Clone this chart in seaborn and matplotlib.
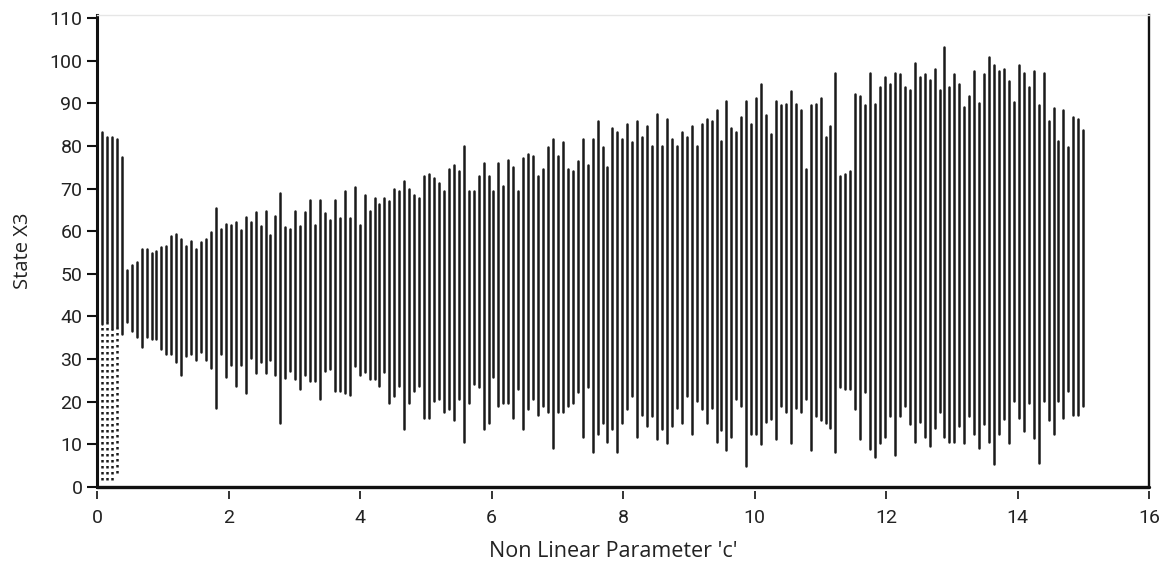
import numpy as np
import pandas as pd
import matplotlib
matplotlib.use("Agg")
import matplotlib.pyplot as plt
import seaborn as sns

# ---- data ----
c_values = np.linspace(0, 15, 200)   # parameter grid (200 samples of c)

x3_max = [
    84.7, 83.2, 82.0, 82.0, 81.6, 77.3, 50.9, 52.1, 52.7, 55.9, 55.9, 54.8, 55.4, 56.4, 56.6, 58.8, 59.3, 58.2, 56.6, 57.7,
    55.9, 57.4, 58.2, 59.8, 65.5, 60.6, 61.7, 61.5, 62.2, 60.3, 63.3, 62.2, 64.5, 61.1, 64.7, 59.0, 63.5, 69.0, 60.9, 60.6,
    64.7, 61.1, 64.5, 67.3, 61.5, 67.3, 64.2, 62.7, 67.3, 63.1, 69.4, 63.1, 70.3, 61.5, 68.4, 64.7, 67.8, 66.4, 67.8, 67.0,
    69.8, 69.4, 71.8, 69.8, 68.4, 67.8, 72.9, 73.5, 72.4, 71.4, 69.4, 74.5, 75.5, 74.0, 80.0, 69.4, 69.4, 72.9, 76.1, 72.9,
    69.4, 76.1, 70.6, 76.6, 75.1, 69.4, 77.1, 78.2, 77.7, 72.9, 74.5, 79.8, 81.6, 77.7, 80.8, 74.5, 74.0, 76.5, 81.6, 75.5,
    81.6, 85.9, 79.8, 75.1, 84.2, 83.2, 81.6, 85.1, 80.8, 85.9, 82.0, 84.7, 80.0, 87.5, 80.0, 86.3, 81.6, 80.0, 83.2, 82.1,
    84.7, 80.0, 85.1, 86.3, 85.9, 88.4, 81.2, 90.6, 84.2, 83.2, 86.7, 90.6, 85.1, 91.3, 94.4, 87.3, 82.8, 90.6, 89.5, 89.8,
    92.8, 89.8, 88.4, 74.5, 89.5, 89.8, 91.3, 82.1, 84.7, 97.1, 72.9, 73.5, 74.0, 92.2, 91.8, 89.5, 97.1, 89.8, 93.9, 96.1,
    94.6, 97.1, 96.8, 93.9, 93.0, 99.4, 96.1, 96.8, 95.5, 98.1, 93.0, 103.2, 93.9, 96.8, 94.6, 89.2, 91.8, 97.6, 90.0, 96.8,
    100.9, 98.9, 97.6, 98.1, 95.2, 90.2, 98.9, 97.1, 93.9, 97.6, 89.5, 97.1, 85.9, 88.9, 81.2, 88.4, 79.8, 86.7, 86.3, 83.7,
]

x3_min = [
    38.5, 38.3, 39.0, 37.0, 37.5, 36.0, 38.7, 36.5, 35.2, 32.8, 35.2, 34.8, 34.8, 32.3, 31.2, 31.2, 29.4, 26.3, 30.8, 31.2,
    29.9, 31.6, 29.9, 27.9, 18.6, 31.2, 25.7, 28.6, 23.8, 28.6, 22.0, 30.2, 26.8, 29.3, 26.8, 29.7, 26.3, 15.0, 25.5, 27.1,
    25.3, 23.0, 26.3, 24.9, 24.9, 20.6, 27.1, 27.7, 22.6, 22.6, 22.0, 21.6, 28.3, 26.3, 26.9, 25.3, 25.3, 23.8, 26.9, 19.7,
    21.4, 23.8, 13.7, 19.7, 22.6, 23.8, 16.1, 16.1, 20.2, 20.6, 17.5, 18.3, 15.8, 20.6, 10.5, 19.8, 24.2, 23.4, 13.7, 15.1,
    25.7, 19.0, 19.8, 19.7, 16.3, 23.0, 13.7, 18.3, 20.6, 16.8, 19.0, 17.5, 9.2, 17.6, 17.5, 19.0, 19.7, 22.2, 11.8, 23.4,
    8.2, 12.4, 15.1, 10.5, 13.7, 8.2, 15.1, 18.3, 21.4, 11.8, 16.8, 14.3, 16.6, 11.3, 13.5, 10.4, 14.3, 18.6, 15.1, 21.4,
    12.4, 20.2, 18.3, 15.1, 18.6, 10.5, 13.4, 8.7, 11.8, 20.6, 19.0, 4.9, 12.4, 12.4, 10.0, 15.3, 15.9, 11.3, 19.0, 17.6,
    10.4, 18.6, 17.5, 20.6, 8.7, 16.6, 15.7, 15.1, 13.9, 8.2, 23.4, 23.0, 23.0, 18.3, 11.3, 22.2, 8.8, 7.1, 10.4, 11.8,
    16.6, 7.6, 16.6, 19.0, 14.7, 10.5, 15.3, 11.8, 9.6, 13.9, 17.6, 11.8, 10.5, 10.5, 14.3, 10.4, 16.6, 12.4, 9.2, 14.7,
    10.5, 5.3, 12.4, 15.9, 10.4, 20.2, 16.3, 13.1, 19.7, 11.6, 5.7, 20.2, 15.7, 12.4, 20.2, 16.3, 22.6, 16.8, 16.8, 19.0,
]

# dotted (sparse) lower part of the first columns
dotted_idx = [0, 1, 2, 3, 4]
dotted_low = [1.7, 1.7, 1.7, 1.7, 3.3]

x_ticks = [0, 2, 4, 6, 8, 10, 12, 14, 16]
y_ticks = [0, 10, 20, 30, 40, 50, 60, 70, 80, 90, 100, 110]

# ---- long-form tables ----
rows = []
for i, (c, lo, hi) in enumerate(zip(c_values, x3_min, x3_max)):
    rows.append((i, c, lo))
    rows.append((i, c, hi))
df = pd.DataFrame(rows, columns=["seg", "c", "x3"])

drows = []
for i, lo in zip(dotted_idx, dotted_low):
    drows.append((i, c_values[i], lo))
    drows.append((i, c_values[i], x3_min[i]))
ddf = pd.DataFrame(drows, columns=["seg", "c", "x3"])

# ---- style ----
sns.set_style("ticks")
plt.rcParams["font.family"] = ["Roboto", "DejaVu Sans"]
txt = "#222222"
label_font = ["Open Sans", "DejaVu Sans"]

fig = plt.figure(figsize=(11.66, 5.67), dpi=100)
ax = fig.add_axes([97 / 1166, 1 - 487 / 567, (1149 - 97) / 1166, (487 - 15) / 567])

sns.lineplot(data=df, x="c", y="x3", units="seg", estimator=None, sort=False,
             color="#1a1a1a", lw=1.8, ax=ax, legend=False)
sns.lineplot(data=ddf, x="c", y="x3", units="seg", estimator=None, sort=False,
             color="#1a1a1a", lw=1.8, ax=ax, legend=False, linestyle=(0, (1, 1.4)))

ax.set_xlim(0, 16)
ax.set_ylim(0, 110.7)
ax.set_xticks(x_ticks)
ax.set_yticks(y_ticks)
ax.set_xticklabels([str(t) for t in x_ticks])
ax.set_yticklabels([str(t) for t in y_ticks])

ax.set_xlabel("Non Linear Parameter 'c'", fontsize=15.5, color=txt, labelpad=7,
              family=label_font)
ax.xaxis.set_label_coords((613 - 97) / (1149 - 97), -0.115)
ax.set_ylabel("State X3", fontsize=14.5, color=txt, labelpad=12, family=label_font)

ax.tick_params(axis="y", direction="out", length=7, width=1.5, pad=3.5,
               labelsize=14, colors="#111111", labelcolor=txt)
ax.tick_params(axis="x", direction="out", length=6, width=1.2, pad=7,
               labelsize=14, colors="#111111", labelcolor=txt)

# spines
ax.spines["left"].set_linewidth(2.2)
ax.spines["left"].set_color("#111111")
ax.spines["right"].set_linewidth(1.7)
ax.spines["right"].set_color("#111111")
ax.spines["top"].set_linewidth(1.0)
ax.spines["top"].set_color("#e6e6e6")
# detached x ticks: move the bottom axis slightly outward and draw the base line separately
ax.spines["bottom"].set_position(("outward", 3))
ax.spines["bottom"].set_visible(False)
ax.axhline(0, color="#111111", lw=2.4, clip_on=False, zorder=5)

fig.savefig("out.png", dpi=100)
